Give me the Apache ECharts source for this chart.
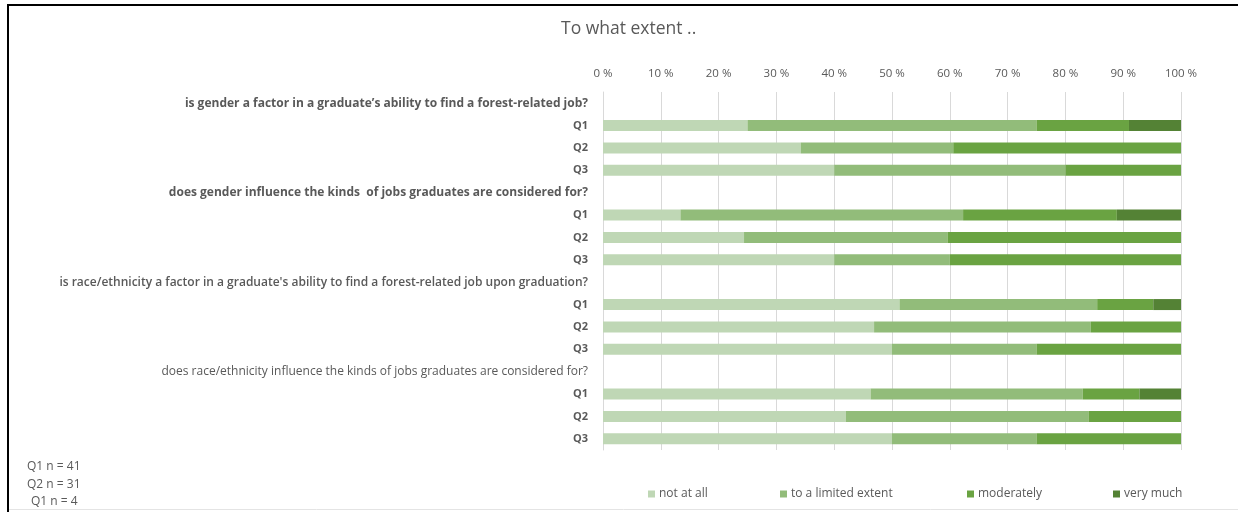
<!DOCTYPE html>
<html>
<head>
<meta charset="utf-8">
<script src="https://cdn.jsdelivr.net/npm/echarts@6/dist/echarts.min.js"></script>
<style>
html,body{margin:0;padding:0;background:#fff;}
#chart{width:1238px;height:512px;}
</style>
</head>
<body>
<div id="chart"></div>
<script>
// ---- data ----
const questions = [
  "is gender a factor in a graduate\u2019s ability to find a forest-related job?",
  "does gender influence the kinds  of jobs graduates are considered for?",
  "is race/ethnicity a factor in a graduate's ability to find a forest-related job upon graduation?",
  "does race/ethnicity influence the kinds of jobs graduates are considered for?"
];
const groups = ["Q1", "Q2", "Q3"];
const seriesNames = ["not at all", "to a limited extent", "moderately", "very much"];
// values per question block, rows Q1,Q2,Q3 (percent)
const notAtAll   = [25, 34.2, 40,   13.4, 24.4, 40,   51.3, 46.9, 50,   46.3, 42, 50];
const limited    = [50, 26.4, 40,   48.9, 35.2, 20,   34.2, 37.5, 25,   36.7, 42, 25];
const moderately = [16, 39.4, 20,   26.6, 40.4, 40,    9.7, 15.6, 25,    9.8, 16, 25];
const veryMuch   = [ 9,  0,    0,   11.1,  0,    0,    4.8,  0,    0,    7.2,  0,  0];
const xTicks = [0, 10, 20, 30, 40, 50, 60, 70, 80, 90, 100];
const notes = ["Q1 n = 41", "Q2 n = 31", " Q1 n = 4"];

const colors = ["#BFD7B5", "#92BC7A", "#6AA342", "#548235"];
const allValues = [notAtAll, limited, moderately, veryMuch];

// build categories: header row + Q rows for each question
const headerStyles = ["h", "h", "hs", "hn"];
const categories = [];
const labelMap = {};
const rowIndex = [];
questions.forEach((q, qi) => {
  const hk = "H" + qi;
  categories.push(hk);
  labelMap[hk] = { text: q, style: headerStyles[qi] };
  rowIndex.push(-1);
  groups.forEach((g, gi) => {
    const k = g + "_" + qi;
    categories.push(k);
    labelMap[k] = { text: g, style: "q" };
    rowIndex.push(qi * 3 + gi);
  });
});

const font = "'Open Sans', 'Noto Sans', sans-serif";
const series = seriesNames.map((name, si) => ({
  name: name,
  type: "bar",
  stack: "total",
  barWidth: 11,
  itemStyle: { color: colors[si] },
  emphasis: { disabled: true },
  data: rowIndex.map(r => (r < 0 ? "-" : (allValues[si][r] === 0 ? "-" : allValues[si][r])))
}));

const legendLefts = [643, 775, 962, 1108];
const legends = seriesNames.map((n, i) => ({
  data: [n],
  left: legendLefts[i],
  top: 483,
  itemWidth: 7,
  itemHeight: 7,
  icon: "rect",
  itemGap: 4,
  textStyle: { color: "#595959", fontSize: 12, fontFamily: font, padding: [0, 0, 0, -1] },
  selectedMode: false
}));

const chart = echarts.init(document.getElementById("chart"), null, { renderer: "canvas" });
chart.setOption({
  animation: false,
  backgroundColor: "#ffffff",
  title: {
    text: "To what extent ..",
    left: 556,
    top: 15,
    textStyle: { color: "#595959", fontSize: 17.5, fontWeight: "normal", fontFamily: font }
  },
  legend: legends,
  grid: { left: 603, right: 57, top: 92, bottom: 62, containLabel: false },
  xAxis: {
    type: "value",
    position: "top",
    min: 0,
    max: 100,
    interval: 10,
    axisLine: { show: false },
    axisTick: { show: false },
    splitLine: { show: true, lineStyle: { color: "#D9D9D9", width: 1 } },
    axisLabel: {
      margin: 12,
      color: "#595959",
      fontSize: 11.5,
      fontFamily: font,
      formatter: v => v + " %"
    }
  },
  yAxis: {
    type: "category",
    inverse: true,
    data: categories,
    axisLine: { show: true, lineStyle: { color: "#D9D9D9" } },
    axisTick: { show: false },
    axisLabel: {
      margin: 15,
      interval: 0,
      formatter: v => "{" + labelMap[v].style + "|" + labelMap[v].text + "}",
      rich: {
        h: { color: "#595959", fontSize: 12, fontWeight: "bold", fontFamily: font },
        hs: { color: "#595959", fontSize: 12, fontWeight: "600", fontFamily: font },
        hn: { color: "#595959", fontSize: 12, fontWeight: "normal", fontFamily: font },
        q: { color: "#595959", fontSize: 11, fontWeight: "bold", fontFamily: font }
      }
    }
  },
  series: series,
  graphic: [
    { type: "line", shape: { x1: 7, y1: 5, x2: 1238, y2: 5 }, style: { stroke: "#000", lineWidth: 2 } },
    { type: "line", shape: { x1: 8, y1: 4, x2: 8, y2: 512 }, style: { stroke: "#000", lineWidth: 2 } },
    { type: "line", shape: { x1: 9, y1: 509.5, x2: 1238, y2: 509.5 }, style: { stroke: "#E4E4E4", lineWidth: 1 } }
  ].concat(notes.map((t, i) => ({
    type: "text",
    left: 27 + (i === 2 ? 4 : 0),
    top: 461 + i * 17.5,
    style: { text: t.trim(), fill: "#595959", fontSize: 12, fontFamily: font }
  })))
});
</script>
</body>
</html>
